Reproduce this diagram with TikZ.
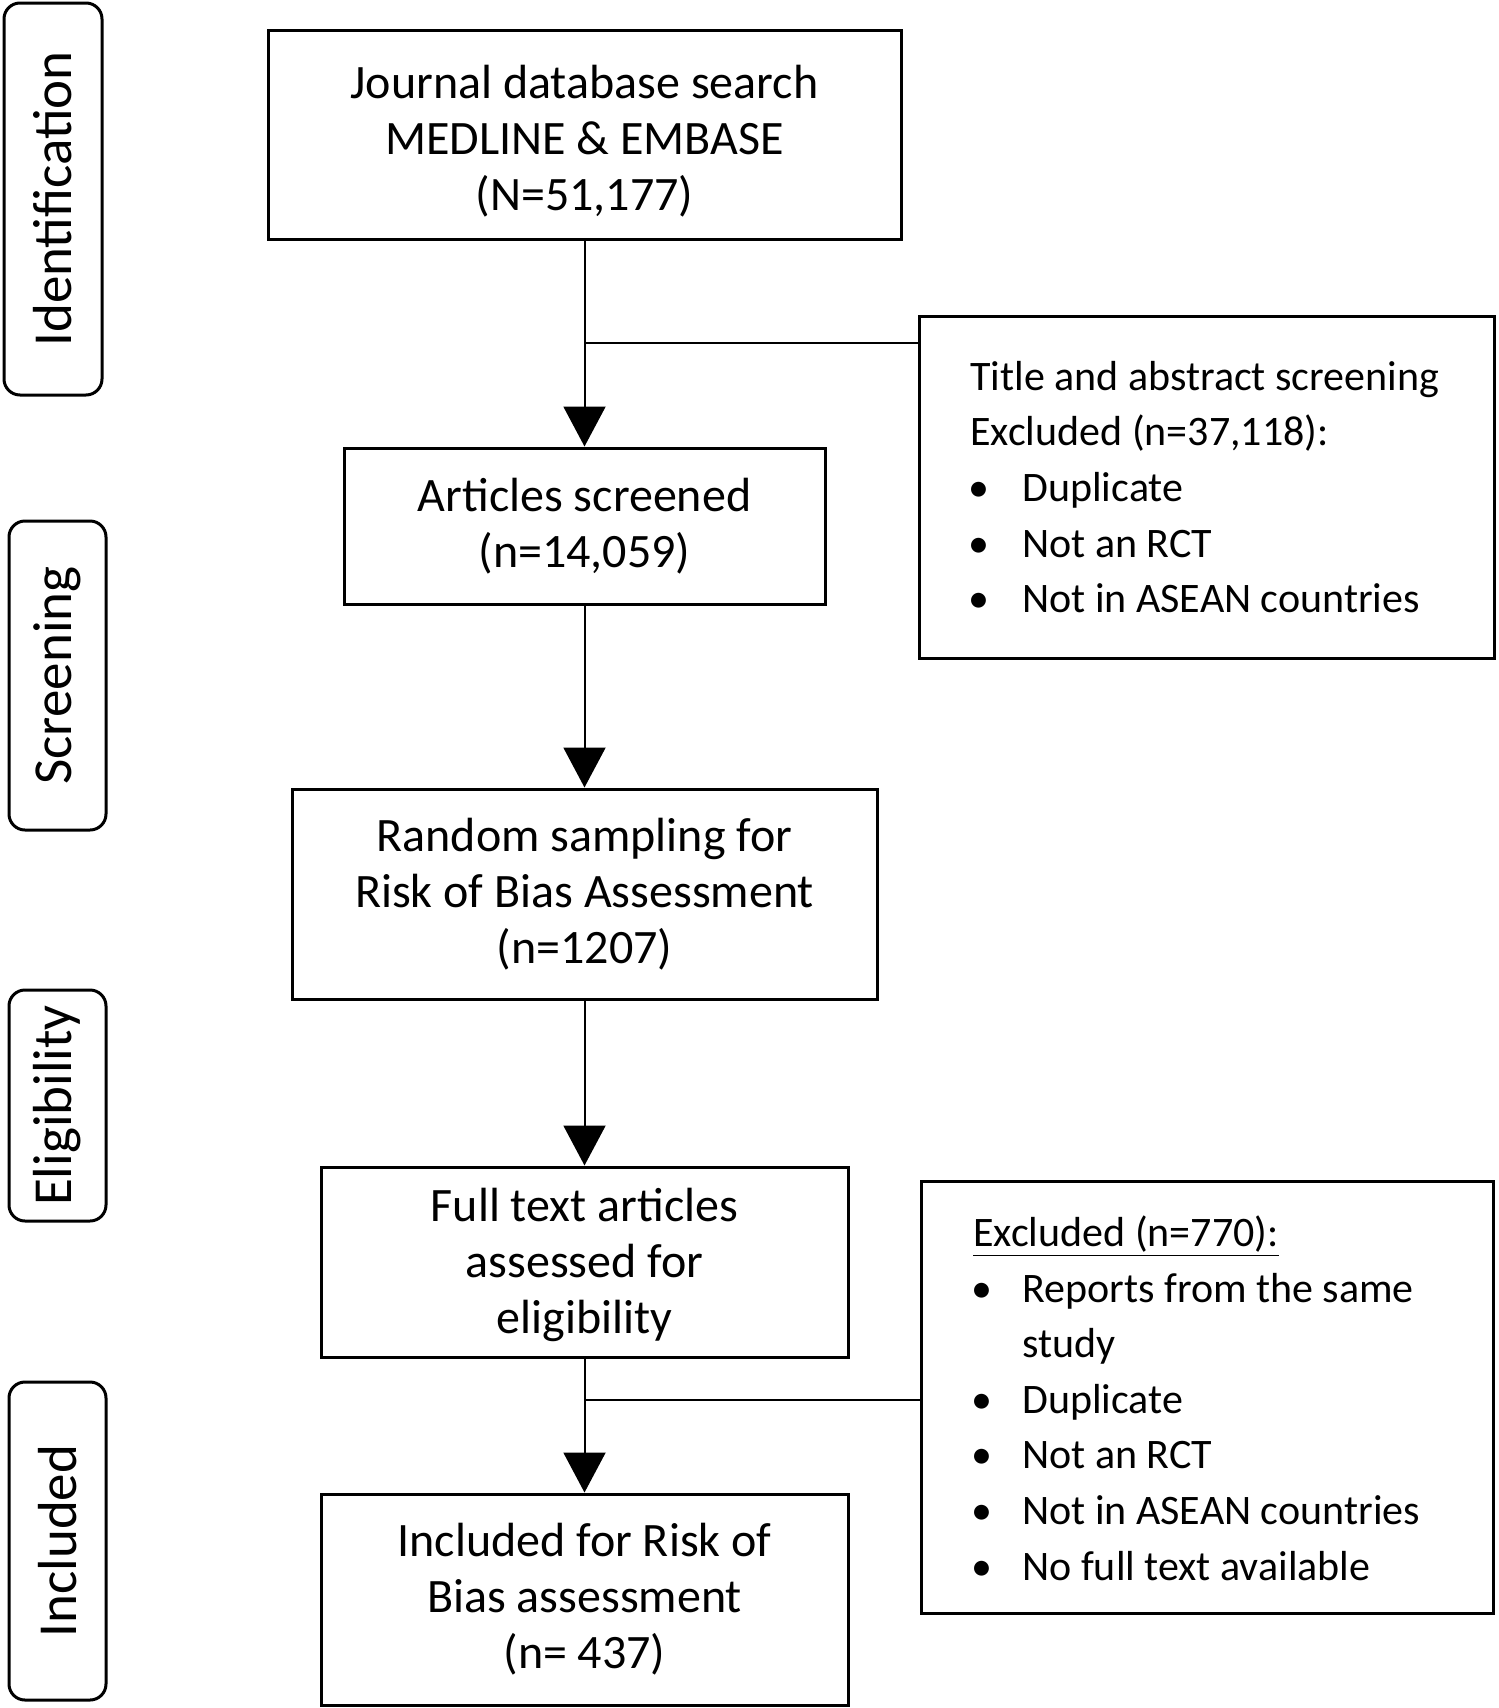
\documentclass[tikz,border=0pt]{standalone}
\usepackage{fontspec}
\setmainfont{Carlito}
\usetikzlibrary{arrows.meta}
\newcommand{\blt}[1]{\hspace*{-1pt}\makebox[#1][l]{•}}
\begin{document}
\begin{tikzpicture}[x=0.5pt,y=-0.5pt,
  mainbox/.style={draw, line width=1.5pt, inner sep=0pt, align=center, font=\fontsize{24}{28}\selectfont},
  maintext/.style={inner sep=0pt, align=center, font=\fontsize{24}{28}\selectfont},
  exbox/.style={draw, line width=1.5pt, inner sep=0pt},
  extext/.style={inner sep=0pt, align=left, anchor=west, font=\fontsize{21}{27.8}\selectfont},
  labbox/.style={draw, line width=1.5pt, rounded corners=8pt, inner sep=0pt, rotate=90, font=\fontsize{27.5}{30}\selectfont},
  conn/.style={line width=1pt},
  arr/.style={line width=1pt, -{Triangle[width=21pt,length=20pt]}}
]
\useasboundingbox (0,0) rectangle (1499,1708);

% stage labels
\node[labbox, minimum width=196pt, minimum height=49pt] (lid) at (53,199) {Identification};
\node[labbox, minimum width=154.5pt, minimum height=48.5pt] (lsc) at (57.5,675.5) {Screening};
\node[labbox, minimum width=115.5pt, minimum height=48.5pt] (lel) at (57.5,1105.5) {Eligibility};
\node[labbox, minimum width=159pt, minimum height=48.5pt] (lin) at (57.5,1541) {Included};

% main column
\node[mainbox, minimum width=316.5pt, minimum height=104.5pt] (top) at (584.5,134.5) {};
\node[maintext] (toptext) at (584.5,141) {Journal database search\\MEDLINE \& EMBASE\\(N=51,177)};
\node[mainbox, minimum width=240.5pt, minimum height=78pt] (art) at (584.5,526) {Articles screened\\(n=14,059)};
\node[mainbox, minimum width=292.5pt, minimum height=105pt] (rnd) at (584.5,894) {Random sampling for\\Risk of Bias Assessment\\(n=1207)};
\node[mainbox, minimum width=263.5pt, minimum height=95pt] (full) at (584.5,1262) {};
\node[maintext] (fulltext) at (584.5,1265) {Full text articles\\assessed for\\eligibility};
\node[mainbox, minimum width=263.5pt, minimum height=105.5pt] (inc) at (584.5,1599.5) {Included for Risk of\\Bias assessment\\(n= 437)};

% exclusion boxes
\node[exbox, minimum width=287.5pt, minimum height=171pt] (ex1) at (1206.5,487) {};
\node[extext] (ex1t) at (970,487) {Title and abstract screening\\Excluded (n=37,118):\\
\blt{27pt}Duplicate\\
\blt{27pt}Not an RCT\\
\blt{27pt}Not in ASEAN countries};

\node[exbox, minimum width=286pt, minimum height=216pt] (ex2) at (1207,1397) {};
\node[extext] (ex2t) at (973,1398) {\underline{Excluded (n=770):}\\
\blt{25.5pt}Reports from the same\\
\hspace*{24.5pt}study\\
\blt{25.5pt}Duplicate\\
\blt{25.5pt}Not an RCT\\
\blt{25.5pt}Not in ASEAN countries\\
\blt{25.5pt}No full text available};

% connectors
\draw[arr] (top.south) -- (art.north);
\draw[arr] (art.south) -- (rnd.north);
\draw[arr] (rnd.south) -- (full.north);
\draw[arr] (full.south) -- (inc.north);
\coordinate (b1) at (584.5,343);
\draw[conn] (b1) -- (b1 -| ex1.west);
\coordinate (b2) at (584.5,1400);
\draw[conn] (b2) -- (b2 -| ex2.west);
\end{tikzpicture}
\end{document}
